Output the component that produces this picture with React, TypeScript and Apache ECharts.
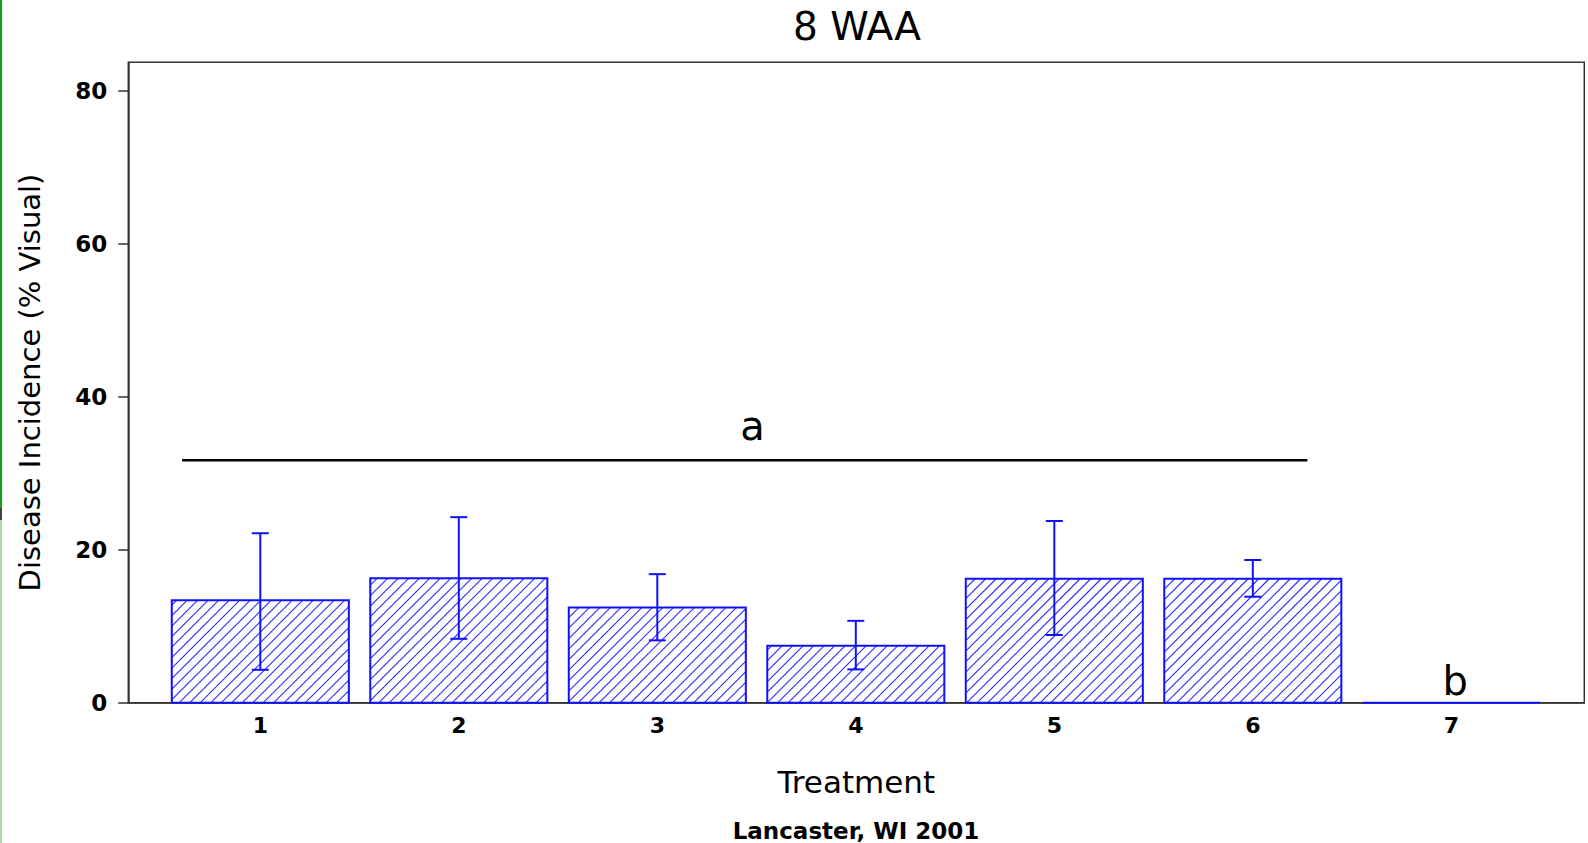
import React, { useEffect, useRef } from "react";
import * as echarts from "echarts";

// Treatment means with their error-bar limits (disease incidence, % visual)
const treatments = [1, 2, 3, 4, 5, 6, 7];
const incidence = [13.4, 16.25, 12.45, 7.45, 16.2, 16.2, 0];
const errLow: (number | null)[] = [4.3, 8.35, 8.15, 4.35, 8.85, 13.85, null];
const errHigh: (number | null)[] = [22.15, 24.25, 16.8, 10.7, 23.75, 18.65, null];
const yTicks = [0, 20, 40, 60, 80];

// Mean-separation grouping: bar spanning treatments 1-6 labelled "a", treatment 7 labelled "b"
const groupLine = [
  [0.606, 31.7],
  [6.275, 31.7],
];
const groupLetters = [
  { x: 3.48, y: 36.1, text: "a" },
  { x: 7.02, y: 2.9, text: "b" },
];

const BAR_W = 0.892; // bar width in treatment units
const HATCH = 10.5; // hatch pitch, px
const BLUE = "#1010ff";
const FONT = "'DejaVu Sans', Arial, sans-serif";

function renderBar(_params: any, api: any) {
  const x = api.value(0);
  const v = api.value(1);
  const tl = api.coord([x - BAR_W / 2, v]);
  const br = api.coord([x + BAR_W / 2, 0]);
  const x0 = tl[0], y0 = tl[1], x1 = br[0], y1 = br[1];
  const children: any[] = [];
  const cMin = Math.ceil((x0 + y0) / HATCH) * HATCH;
  for (let c = cMin; c <= x1 + y1; c += HATCH) {
    const xa = Math.max(x0, c - y1);
    const xb = Math.min(x1, c - y0);
    if (xb > xa) {
      children.push({
        type: "line",
        shape: { x1: xa, y1: c - xa, x2: xb, y2: c - xb },
        style: { stroke: "#2a2aff", lineWidth: 1.1 },
      });
    }
  }
  children.push({
    type: "polygon",
    shape: { points: [[x0, y0], [x1, y0], [x1, y1], [x0, y1]] },
    style: { fill: "none", stroke: BLUE, lineWidth: 2 },
  });
  return { type: "group", children };
}

function renderErr(_params: any, api: any) {
  const x = api.value(0);
  const lo = api.coord([x, api.value(1)]);
  const hi = api.coord([x, api.value(2)]);
  const cap = 8.5;
  const st = { stroke: BLUE, lineWidth: 2 };
  return {
    type: "group",
    children: [
      { type: "line", shape: { x1: lo[0], y1: lo[1], x2: hi[0], y2: hi[1] }, style: st },
      { type: "line", shape: { x1: hi[0] - cap, y1: hi[1], x2: hi[0] + cap, y2: hi[1] }, style: st },
      { type: "line", shape: { x1: lo[0] - cap, y1: lo[1], x2: lo[0] + cap, y2: lo[1] }, style: st },
    ],
  };
}

function renderLetter(params: any, api: any) {
  const p = api.coord([api.value(0), api.value(1)]);
  return {
    type: "text",
    x: p[0],
    y: p[1],
    style: {
      text: groupLetters[params.dataIndex].text,
      fontSize: 40,
      fontFamily: FONT,
      fill: "#000",
      align: "center",
      verticalAlign: "middle",
    },
  };
}

export default function App() {
  const ref = useRef<HTMLDivElement>(null);

  useEffect(() => {
    if (!ref.current) return;
    const chart = echarts.init(ref.current, undefined, { renderer: "svg" });

    const barData = treatments.map((t, i) => [t, incidence[i]]);
    const errData = treatments
      .map((t, i) => [t, errLow[i], errHigh[i]])
      .filter((d) => d[1] != null && d[2] != null);

    chart.setOption({
      animation: false,
      backgroundColor: "#fff",
      title: [
        {
          text: "8 WAA",
          left: 852,
          top: 2,
          textAlign: "center",
          textStyle: { fontFamily: FONT, fontSize: 39, fontWeight: "normal", color: "#000" },
        },
        {
          text: "Lancaster, WI 2001",
          left: 851,
          top: 814,
          textAlign: "center",
          textStyle: { fontFamily: FONT, fontSize: 23, fontWeight: "bold", color: "#000" },
        },
      ],
      grid: {
        left: 128.3,
        right: 3.7,
        top: 62.3,
        bottom: 140.3,
        show: true,
        borderColor: "#333",
        borderWidth: 1.5,
        backgroundColor: "transparent",
      },
      xAxis: {
        type: "value",
        min: 0.335,
        max: 7.67,
        name: "Treatment",
        nameLocation: "middle",
        nameGap: 64,
        nameTextStyle: { fontFamily: FONT, fontSize: 31, color: "#000" },
        axisLine: { show: true, lineStyle: { color: "#333", width: 1.5 } },
        axisTick: { show: false },
        splitLine: { show: false },
        axisLabel: {
          customValues: treatments,
          margin: 12,
          fontFamily: FONT,
          fontSize: 22,
          fontWeight: "bold",
          color: "#000",
        },
      },
      yAxis: {
        type: "value",
        min: 0,
        max: 83.7,
        name: "Disease Incidence (% Visual)",
        nameLocation: "middle",
        nameRotate: 90,
        nameGap: 84,
        nameTextStyle: { fontFamily: FONT, fontSize: 29, color: "#000" },
        axisLine: { show: true, lineStyle: { color: "#333", width: 1.5 } },
        axisTick: { show: true, customValues: yTicks, length: 10, lineStyle: { color: "#333", width: 1.5 } },
        splitLine: { show: false },
        axisLabel: {
          customValues: yTicks,
          margin: 21,
          fontFamily: FONT,
          fontSize: 23,
          fontWeight: "bold",
          color: "#000",
        },
      },
      graphic: [
        { type: "rect", shape: { x: 0, y: 0, width: 2, height: 508 }, style: { fill: "#10a010" } },
        { type: "rect", shape: { x: 0, y: 508, width: 2, height: 12 }, style: { fill: "#444" } },
        { type: "rect", shape: { x: 0, y: 520, width: 2, height: 323 }, style: { fill: "#acd8ac" } },
      ],
      series: [
        { type: "custom", renderItem: renderBar, data: barData, encode: { x: 0, y: 1 }, z: 2 },
        { type: "custom", renderItem: renderErr, data: errData, encode: { x: 0, y: [1, 2] }, z: 3 },
        {
          type: "line",
          data: groupLine,
          symbol: "none",
          lineStyle: { color: "#000", width: 2.5 },
          z: 4,
        },
        { type: "custom", renderItem: renderLetter, data: groupLetters.map((g) => [g.x, g.y]), encode: { x: 0, y: 1 }, z: 5 },
      ],
    });

    return () => chart.dispose();
  }, []);

  return (
    <div
      ref={ref}
      style={{ position: "absolute", left: 0, top: 0, width: 1588, height: 843 }}
    />
  );
}
